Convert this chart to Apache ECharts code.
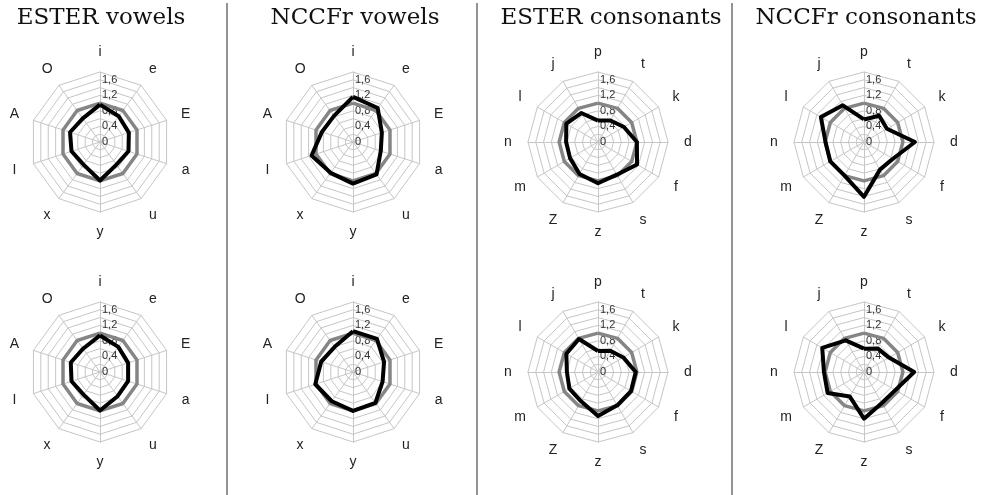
<!DOCTYPE html>
<html><head><meta charset="utf-8">
<script src="https://cdn.jsdelivr.net/npm/echarts@6/dist/echarts.min.js"></script>
<style>html,body{margin:0;padding:0;background:#fff}#c{width:987px;height:495px}</style>
</head><body><div id="c"></div>
<script>
// ---------- data ----------
const titles = ['ESTER vowels', 'NCCFr vowels', 'ESTER consonants', 'NCCFr consonants'];
const vowelAxes = ['i', 'e', 'E', 'a', 'u', 'y', 'x', 'I', 'A', 'O'];
const consonantAxes = ['p', 't', 'k', 'd', 'f', 's', 'z', 'Z', 'm', 'n', 'l', 'j'];
const tickLabels = ['0', '0,4', '0,8', '1,2', '1,6'];
const axisMax = 1.8;
const tickStep = 0.2;

const vowelReference = [1, 1, 1, 1, 1, 1, 1, 1, 1, 1];
const consonantReference = [1, 1, 1, 1, 1, 1, 1, 1, 1, 1, 1, 1];

const esterVowelsTop    = [0.96, 0.82, 0.78, 0.77, 0.72, 0.99, 0.72, 0.77, 0.81, 0.75];
const esterVowelsBottom = [0.94, 0.80, 0.76, 0.76, 0.77, 0.99, 0.72, 0.77, 0.79, 0.74];
const nccfrVowelsTop    = [1.16, 1.08, 0.78, 0.75, 1.03, 1.07, 0.98, 1.12, 0.84, 0.83];
const nccfrVowelsBottom = [1.05, 1.05, 0.84, 0.80, 0.98, 1.00, 0.93, 1.02, 0.86, 0.80];

const esterConsTop    = [0.55, 0.64, 0.77, 1.00, 1.16, 0.97, 1.06, 0.95, 0.83, 0.82, 0.94, 0.86];
const esterConsBottom = [0.54, 0.63, 0.75, 0.97, 0.98, 0.99, 1.13, 0.87, 0.85, 0.80, 0.94, 0.98];
const nccfrConsTop    = [0.58, 0.78, 0.68, 1.31, 0.86, 0.82, 1.41, 1.00, 1.00, 0.99, 1.28, 1.09];
const nccfrConsBottom = [0.60, 0.70, 0.74, 1.29, 0.93, 0.92, 1.20, 0.73, 1.08, 1.03, 1.24, 0.94];

// ---------- layout ----------
const colX = [100, 353, 598, 864];
const rowY = [142, 372];
const titleX = [96, 350, 606, 861];
const dividerX = [227, 477, 732];

const panels = [
  { col: 0, row: 0, axes: vowelAxes, ref: vowelReference, values: esterVowelsTop },
  { col: 1, row: 0, axes: vowelAxes, ref: vowelReference, values: nccfrVowelsTop },
  { col: 2, row: 0, axes: consonantAxes, ref: consonantReference, values: esterConsTop },
  { col: 3, row: 0, axes: consonantAxes, ref: consonantReference, values: nccfrConsTop },
  { col: 0, row: 1, axes: vowelAxes, ref: vowelReference, values: esterVowelsBottom },
  { col: 1, row: 1, axes: vowelAxes, ref: vowelReference, values: nccfrVowelsBottom },
  { col: 2, row: 1, axes: consonantAxes, ref: consonantReference, values: esterConsBottom },
  { col: 3, row: 1, axes: consonantAxes, ref: consonantReference, values: nccfrConsBottom }
];

// ECharts radar runs counter-clockwise; reorder to get clockwise layout
function clockwiseOrder(n) { const o = [0]; for (let j = n - 1; j >= 1; j--) o.push(j); return o; }

function tickFormatter(v) {
  const k = Math.round(v / tickStep);
  return (k % 2 === 0 && k / 2 < tickLabels.length) ? tickLabels[k / 2] : '';
}

const gridColor = '#c6c6c6';
const radars = [];
const series = [];
panels.forEach((p, idx) => {
  const order = clockwiseOrder(p.axes.length);
  radars.push({
    center: [colX[p.col], rowY[p.row]],
    radius: 70,
    startAngle: 90,
    shape: 'polygon',
    splitNumber: 9,
    nameGap: 20,
    axisName: { color: '#222', fontSize: 14, fontFamily: 'Liberation Sans, Arial, sans-serif', align: 'center', verticalAlign: 'middle' },
    indicator: order.map((j, pos) => ({
      name: p.axes[j], min: 0, max: axisMax,
      axisLabel: pos === 0 ? {
        show: true, margin: -2, align: 'left', verticalAlign: 'middle', color: '#333', fontSize: 11,
        fontFamily: 'Liberation Sans, Arial, sans-serif', formatter: tickFormatter,
        showMinLabel: true, showMaxLabel: true, hideOverlap: false
      } : { show: false }
    })),
    axisLine: { lineStyle: { color: gridColor, width: 1 } },
    splitLine: { lineStyle: { color: gridColor, width: 1 } },
    splitArea: { show: false },
    axisTick: { show: false },
    axisLabel: { show: false }
  });
  series.push({
    type: 'radar', radarIndex: idx, symbol: 'none', silent: true,
    data: [
      { value: order.map(j => p.ref[j]), symbol: 'none', lineStyle: { color: '#858585', width: 3.5 } },
      { value: order.map(j => p.values[j]), symbol: 'none', lineStyle: { color: '#000', width: 4 } }
    ]
  });
});

const chart = echarts.init(document.getElementById('c'), null, { renderer: 'canvas' });
chart.setOption({
  animation: false,
  backgroundColor: '#fff',
  title: titles.map((t, i) => ({
    text: t, left: titleX[i], top: 2, textAlign: 'center',
    textStyle: { fontFamily: 'DejaVu Serif, serif', fontWeight: 'normal', fontSize: 23, color: '#111' }
  })),
  radar: radars,
  series: series,
  graphic: dividerX.map(x => ({
    type: 'line', silent: true,
    shape: { x1: x, y1: 3, x2: x, y2: 495 },
    style: { stroke: '#707070', lineWidth: 1.5 }
  }))
});
</script></body></html>
